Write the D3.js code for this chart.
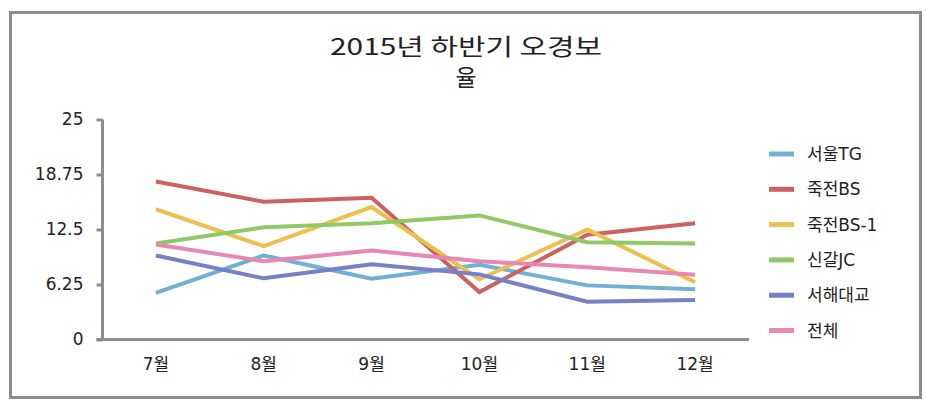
<!DOCTYPE html>
<html>
<head>
<meta charset="utf-8">
<script src="https://cdn.jsdelivr.net/npm/d3@7"></script>
<style>
  body { margin: 0; background: #fff; }
  svg text { font-family: "DejaVu Sans", "Noto Sans CJK KR", sans-serif; fill: #222; }
</style>
</head>
<body>
<svg id="chart" width="926" height="405"></svg>
<script>
var months = ["7월", "8월", "9월", "10월", "11월", "12월"];
var seriesNames = ["서울TG", "죽전BS", "죽전BS-1", "신갈JC", "서해대교", "전체"];
var seriesColors = ["#6eb1d2", "#cd6060", "#ecc04f", "#8fc865", "#7580c8", "#e887b1"];

var seoulTG   = [5.3, 9.55, 6.9, 8.5, 6.15, 5.7];
var jukjeonBS = [17.95, 15.65, 16.1, 5.4, 11.9, 13.2];
var jukjeonBS1 = [14.8, 10.6, 15.05, 6.85, 12.5, 6.5];
var singalJC  = [10.9, 12.75, 13.2, 14.1, 11.05, 10.9];
var seohae    = [9.55, 6.95, 8.55, 7.4, 4.3, 4.5];
var total     = [10.8, 8.9, 10.1, 8.9, 8.2, 7.35];

var yTicks = [0, 6.25, 12.5, 18.75, 25];
var yTickLabels = ["0", "6.25", "12.5", "18.75", "25"];

var allSeries = [seoulTG, jukjeonBS, jukjeonBS1, singalJC, seohae, total];

var svg = d3.select("#chart");

// frame
svg.append("rect")
    .attr("x", 10.5).attr("y", 12.5)
    .attr("width", 910).attr("height", 385)
    .attr("fill", "#fff")
    .attr("stroke", "#8c8c8c")
    .attr("stroke-width", 3);

// title (two lines, narrow like the original)
svg.append("text")
    .attr("x", 466).attr("y", 55)
    .attr("text-anchor", "middle")
    .attr("textLength", 272)
    .attr("lengthAdjust", "spacingAndGlyphs")
    .style("font-family", "'Noto Sans CJK KR', sans-serif")
    .style("font-size", "23px")
    .text("2015년 하반기 오경보");
svg.append("text")
    .attr("x", 466).attr("y", 86)
    .attr("text-anchor", "middle")
    .attr("textLength", 21)
    .attr("lengthAdjust", "spacingAndGlyphs")
    .style("font-family", "'Noto Sans CJK KR', sans-serif")
    .style("font-size", "23px")
    .text("율");

var x = d3.scaleBand()
    .domain(months)
    .range([102, 749]);

var y = d3.scaleLinear()
    .domain([0, 25])
    .range([339.5, 119.5]);

// y axis
var yAxis = svg.append("g")
    .attr("transform", "translate(102.5,0)")
    .call(d3.axisLeft(y).tickValues(yTicks).tickSize(6).tickPadding(13)
        .tickFormat(function(d, i) { return yTickLabels[i]; }));
yAxis.select(".domain").attr("stroke", "#8c8c8c").attr("stroke-width", 3)
    .attr("d", "M0," + y(25) + "V" + y(0));
yAxis.selectAll(".tick line").attr("stroke", "#8c8c8c").attr("stroke-width", 3);
yAxis.selectAll(".tick text").style("font-size", "17px").attr("font-family", null);

// x axis
var xAxis = svg.append("g")
    .attr("transform", "translate(0," + y(0) + ")")
    .call(d3.axisBottom(x).tickSize(0).tickPadding(18));
xAxis.select(".domain").attr("stroke", "#8c8c8c").attr("stroke-width", 3)
    .attr("d", "M96.5,0H749");
xAxis.selectAll(".tick text").style("font-size", "17px").attr("font-family", null);

var line = d3.line()
    .x(function(d, i) { return x(months[i]) + x.bandwidth() / 2; })
    .y(function(d) { return y(d); });

svg.selectAll(".series")
    .data(allSeries)
    .enter().append("path")
    .attr("class", "series")
    .attr("d", line)
    .attr("fill", "none")
    .attr("stroke", function(d, i) { return seriesColors[i]; })
    .attr("stroke-width", 4)
    .attr("stroke-linejoin", "miter");

// legend
var legend = svg.selectAll(".legend")
    .data(seriesNames)
    .enter().append("g")
    .attr("class", "legend")
    .attr("transform", function(d, i) { return "translate(769," + (154 + i * 35.3) + ")"; });

legend.append("rect")
    .attr("x", 0).attr("y", -2.5)
    .attr("width", 25).attr("height", 5)
    .attr("fill", function(d, i) { return seriesColors[i]; });

legend.append("text")
    .attr("x", 38).attr("y", 6)
    .style("font-size", "17px")
    .text(function(d) { return d; });
</script>
</body>
</html>
